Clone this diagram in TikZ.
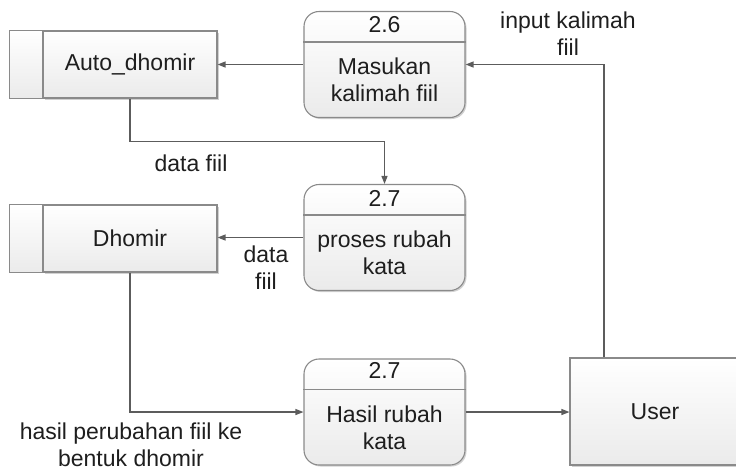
\documentclass[tikz,border=0pt]{standalone}
\usepackage{fontspec}
\setmainfont{Liberation Sans}
\usepackage{xcolor}
\usetikzlibrary{arrows.meta}
\usetikzlibrary{calc}
\usetikzlibrary{shadows}
\definecolor{edgegray}{HTML}{8A8A8A}
\definecolor{linegray}{HTML}{5C5C5C}
\definecolor{inkgray}{HTML}{1E1E1E}

\tikzset{
  txt/.style={text=inkgray, align=center, inner sep=0pt,
    font=\fontsize{23}{27}\selectfont},
  box/.style={draw=edgegray, line width=1.1pt, top color=white,
    bottom color=black!8, inner sep=0pt},
  shade/.style={drop shadow={shadow xshift=1.5pt, shadow yshift=-1.5pt,
    opacity=.3, fill=black!60}},
  proc/.style={box, shade, rounded corners=15pt, minimum width=161pt,
    minimum height=106pt},
  store/.style={box, shade, txt, minimum width=174pt, minimum height=67pt},
  ext/.style={box, shade, txt, minimum width=170pt, minimum height=107pt},
  divider/.style={draw=edgegray, line width=1.1pt},
  flow/.style={draw=linegray, line width=1.2pt,
    -{Triangle[length=8pt,width=6pt]}},
}

\begin{document}
\begin{tikzpicture}[x=1pt, y=-1pt]
  \useasboundingbox (0,0) rectangle (736,472);

  % data stores
  \node[store] (auto) at (130,64.5) {Auto\_dhomir};
  \draw[box] (auto.north west) rectangle ([xshift=-33pt]auto.south west);
  \node[store] (dhomir) at (130,238.5) {Dhomir};
  \draw[box] (dhomir.north west) rectangle ([xshift=-33pt]dhomir.south west);

  % processes
  \node[proc] (p26) at (384.5,64.5) {};
  \draw[divider] ([yshift=-31pt]p26.north west) -- ([yshift=-31pt]p26.north east);
  \node[txt] (p26-no) at ([yshift=-14pt]p26.north) {2.6};
  \node[txt] (p26-txt) at ([yshift=-15.5pt]p26.center) {Masukan\\kalimah fiil};

  \node[proc] (p27a) at (384.5,237.5) {};
  \draw[divider] ([yshift=-31pt]p27a.north west) -- ([yshift=-31pt]p27a.north east);
  \node[txt] (p27a-no) at ([yshift=-15pt]p27a.north) {2.7};
  \node[txt] (p27a-txt) at ([yshift=-15.5pt]p27a.center) {proses rubah\\kata};

  \node[proc] (p27b) at (384.5,412) {};
  \draw[divider] ([yshift=-31pt]p27b.north west) -- ([yshift=-31pt]p27b.north east);
  \node[txt] (p27b-no) at ([yshift=-12pt]p27b.north) {2.7};
  \node[txt] (p27b-txt) at ([yshift=-15.5pt]p27b.center) {Hasil rubah\\kata};

  % external entity
  \node[ext] (user) at (655,411.5) {User};
  \coordinate (user-in) at ([xshift=-51pt]user.north);

  % flows
  \draw[flow] (user-in) |- (p26.east);
  \path (p26.west) edge[flow] (p26.west -| auto.east);
  \draw[flow] (auto.south) -- ++(0,43) -| (p27a.north);
  \path (p27a.west) edge[flow] (p27a.west -| dhomir.east);
  \draw[flow] (dhomir.south) |- (p27b.west);
  \path (p27b.east) edge[flow] (p27b.east -| user.west);

  % flow labels
  \node[txt] (lbl-input) at (568,34) {input kalimah\\fiil};
  \node[txt] (lbl-data1) at (191,163) {data fiil};
  \node[txt] (lbl-data2) at (266,268) {data\\fiil};
  \node[txt] (lbl-hasil) at (131,445) {hasil perubahan fiil ke\\bentuk dhomir};
\end{tikzpicture}
\end{document}
